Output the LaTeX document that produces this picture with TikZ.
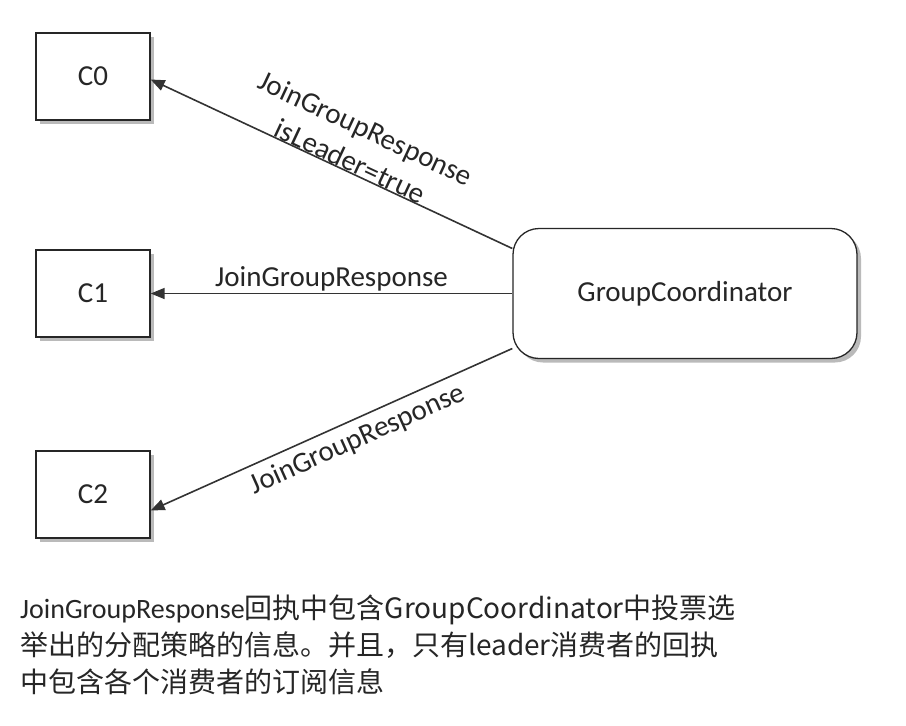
\documentclass[tikz,border=0pt]{standalone}
\usepackage{fontspec}
\setmainfont{Carlito}
\newfontfamily\cjk{Noto Sans CJK SC}
\usetikzlibrary{shapes,arrows.meta,positioning,shadows}
\tikzset{basic/.style={draw=black!85,fill=white,line width=1.3pt,font=\fontsize{29}{36}\selectfont,text=black!85,drop shadow={fill=black!45,opacity=0.6,shadow xshift=4pt,shadow yshift=-4pt}}}
\tikzset{client/.style={basic,rectangle,minimum width=114pt,minimum height=87pt}}
\tikzset{coordbox/.style={basic,rectangle,rounded corners=26pt,minimum width=344pt,minimum height=130pt}}
\tikzset{arrow/.style={draw=black!80,line width=1.6pt,>={Triangle[length=14pt,width=11pt]}}}
\tikzset{msg/.style={font=\fontsize{29}{36}\selectfont,text=black!85,inner sep=2pt,align=center}}

\begin{document}
\begin{tikzpicture}[x=1pt,y=-1pt]
    \useasboundingbox (0,0) rectangle (906,726);

    \node[client] (c0) at (93,76.5) {C0};
    \node[client,below of=c0,node distance=217pt] (c1) {C1};
    \node[client,below of=c1,node distance=201pt] (c2) {C2};
    \node[coordbox,right of=c1,node distance=592pt] (coord) {GroupCoordinator};

        \path[arrow,<-] ([yshift=-3pt]c0.east) -- node[msg,sloped,above,pos=0.54,inner sep=0pt] {JoinGroupResponse\\isLeader=true} ([yshift=45pt]coord.west);
        \path[arrow,<-] (c1.east) -- node[msg,above,pos=0.5] {JoinGroupResponse} (coord.west);
        \path[arrow,<-] ([yshift=-16pt]c2.east) -- node[msg,sloped,below,pos=0.55,inner sep=7pt] {JoinGroupResponse} ([yshift=-55pt]coord.west);

    \node[msg,anchor=north west,align=left,inner sep=0pt,font=\fontsize{28}{37}\selectfont] (note) at (20,595)
        {JoinGroupResponse\cjk{回执中包含}GroupCoordinator\cjk{中投票选}\\
         \cjk{举出的分配策略的信息。并且，只有}leader\cjk{消费者的回执}\\
         \cjk{中包含各个消费者的订阅信息}};
  \end{tikzpicture}
\end{document}
